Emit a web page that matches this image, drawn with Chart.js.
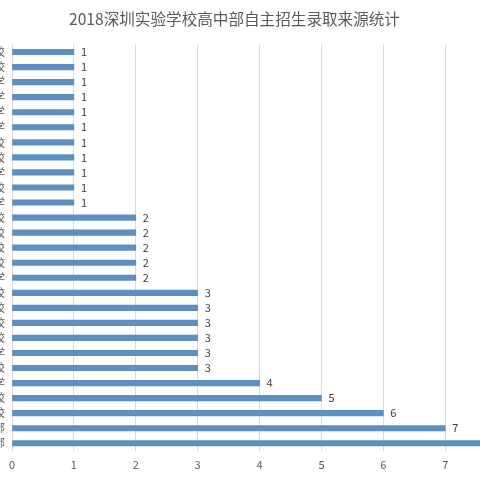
<!DOCTYPE html>
<html>
<head>
<meta charset="utf-8">
<script src="https://cdn.jsdelivr.net/npm/chart.js@4/dist/chart.umd.min.js"></script>
<style>
  html, body { margin: 0; padding: 0; background: #ffffff; overflow: hidden; width: 480px; height: 480px; }
  #wrap { position: absolute; left: -100px; top: 0; width: 680px; height: 480px; }
</style>
</head>
<body>
<div id="wrap"><canvas id="c"></canvas></div>
<script>
const titleText = '2018深圳实验学校高中部自主招生录取来源统计';
const categories = [
  '福田外国语学校', '南山外国语学校', '宝安中学', '翠园中学', '红岭中学',
  '育才中学', '北师大南山附属学校', '深圳外国语学校', '华侨城中学', '南山实验学校',
  '龙华中学', '罗湖外国语学校', '石厦学校', '荔园外国语学校', '松坪学校',
  '桂园中学', '宝安实验学校', '明德实验学校', '南山第二外国语学校', '百合外国语学校',
  '景秀中学', '南外文华学校', '深圳高级中学', '蛇口育才学校', '福田区实验学校',
  '深圳实验学校坂田部', '深圳实验学校初中部'
];
const counts = [1, 1, 1, 1, 1, 1, 1, 1, 1, 1, 1, 2, 2, 2, 2, 2, 3, 3, 3, 3, 3, 3, 4, 5, 6, 7, 8];
const xTicks = [0, 1, 2, 3, 4, 5, 6, 7, 8, 9];

const valueLabels = {
  id: 'valueLabels',
  afterDatasetsDraw(chart) {
    const ctx = chart.ctx;
    const meta = chart.getDatasetMeta(0);
    ctx.save();
    ctx.font = '11px "Noto Sans CJK SC", "Noto Sans", sans-serif';
    ctx.fillStyle = '#404040';
    ctx.textAlign = 'left';
    ctx.textBaseline = 'middle';
    meta.data.forEach((bar, i) => {
      ctx.fillText(String(chart.data.datasets[0].data[i]), bar.x + 7, bar.y);
    });
    ctx.restore();
  }
};

new Chart(document.getElementById('c'), {
  type: 'bar',
  data: {
    labels: categories,
    datasets: [{
      data: counts,
      backgroundColor: '#5d8fc0',
      borderWidth: 0,
      barThickness: 5.5
    }]
  },
  options: {
    indexAxis: 'y',
    responsive: true,
    maintainAspectRatio: false,
    animation: false,
    events: [],
    layout: { padding: { top: 0, bottom: 9, left: 0, right: 11 } },
    plugins: {
      legend: { display: false },
      tooltip: { enabled: false },
      title: {
        display: true,
        text: titleText,
        color: '#595959',
        font: { family: '"Noto Sans CJK SC", "Noto Sans", sans-serif', size: 15.6, weight: 'normal' },
        padding: { top: 9.6, bottom: 16.2 }
      }
    },
    scales: {
      x: {
        min: 0,
        max: 9,
        afterBuildTicks(s) { s.ticks = xTicks.map(v => ({ value: v })); },
        afterFit(s) { s.height = 20.2; },
        grid: { color: '#d9d9d9', drawTicks: false },
        border: { display: false },
        ticks: {
          color: '#595959',
          padding: 7,
          font: { family: '"Noto Sans CJK SC", "Noto Sans", sans-serif', size: 11 }
        }
      },
      y: {
        afterFit(s) { s.width = 112; },
        grid: { display: false, drawTicks: false },
        border: { display: true, color: '#d9d9d9' },
        ticks: {
          autoSkip: false,
          color: '#595959',
          padding: 7,
          font: { family: '"Noto Sans CJK SC", "Noto Sans", sans-serif', size: 11 }
        }
      }
    }
  },
  plugins: [valueLabels]
});
</script>
</body>
</html>
